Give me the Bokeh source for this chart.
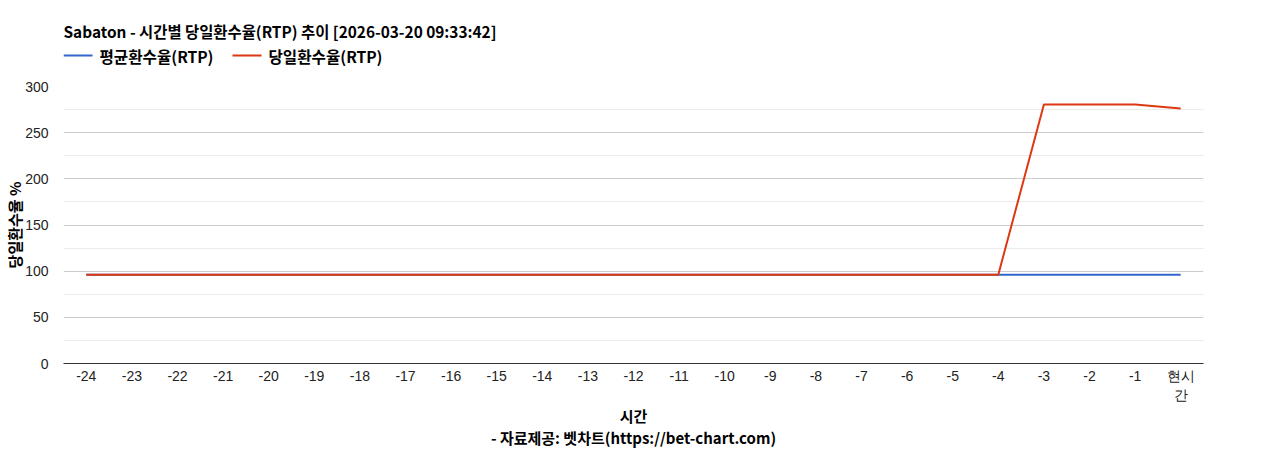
from bokeh.plotting import figure
from bokeh.models import (FactorRange, Range1d, ColumnDataSource, FixedTicker)
from bokeh.layouts import column
from bokeh.core.properties import value
from bokeh.embed import file_html
from bokeh.resources import INLINE

hours = ["-24", "-23", "-22", "-21", "-20", "-19", "-18", "-17", "-16", "-15",
         "-14", "-13", "-12", "-11", "-10", "-9", "-8", "-7", "-6", "-5",
         "-4", "-3", "-2", "-1", "현시\n간"]
avg_rtp = [96.2, 96.2, 96.2, 96.2, 96.2, 96.2, 96.2, 96.2, 96.2, 96.2,
           96.2, 96.2, 96.2, 96.2, 96.2, 96.2, 96.2, 96.2, 96.2, 96.2,
           96.2, 96.2, 96.2, 96.2, 96.2]
daily_rtp = [96.2, 96.2, 96.2, 96.2, 96.2, 96.2, 96.2, 96.2, 96.2, 96.2,
             96.2, 96.2, 96.2, 96.2, 96.2, 96.2, 96.2, 96.2, 96.2, 96.2,
             96.2, 280.6, 280.6, 280.6, 276.3]
y_ticks = [0, 50, 100, 150, 200, 250, 300]
y_minor = [25, 75, 125, 175, 225, 275]

series_names = ["평균환수율(RTP)", "당일환수율(RTP)"]
series_colors = ["#3366cc", "#dc3912"]
title_text = "Sabaton - 시간별 당일환수율(RTP) 추이 [2026-03-20 09:33:42]"
x_title = "시간"
source_text = "- 자료제공: 벳차트(https://bet-chart.com)"
y_title = "당일환수율 %"

FONT = "Liberation Sans"
KFONT = "Noto Sans CJK KR"
LB, RB = 63, 49          # frame at page x 63..1203
FW, FHT = 1140, 277      # frame size
W = LB + FW + RB

# ---- header: title + legend (x measured from the frame's left edge)
HH = 70
head = figure(width=W, height=HH, x_range=Range1d(0, FW), y_range=Range1d(HH, 0),
              output_backend="svg", toolbar_location=None,
              min_border_left=LB, min_border_right=RB,
              min_border_top=0, min_border_bottom=0)
head.axis.visible = False
head.grid.visible = False
head.outline_line_color = None
head.text(x=[0], y=[30], text=[title_text], text_font=value(KFONT),
          text_font_style="bold", text_font_size="15.4px", text_color="#000000",
          text_baseline="middle")
leg_x = [0, 169]
head.segment(x0=leg_x, y0=[55, 55], x1=[x + 29 for x in leg_x], y1=[55, 55],
             line_color=series_colors, line_width=2)
head.text(x=[x + 36 for x in leg_x], y=[55, 55], text=series_names,
          text_font=value(KFONT), text_font_style="bold", text_font_size="15.6px",
          text_color="#000000", text_baseline="middle")

# ---- main chart
src = ColumnDataSource(dict(x=hours, avg=avg_rtp, daily=daily_rtp))
p = figure(frame_width=FW, frame_height=FHT,
           x_range=FactorRange(*hours, range_padding=0),
           y_range=Range1d(0, 300), output_backend="svg",
           toolbar_location=None, min_border_left=LB, min_border_right=RB,
           min_border_top=16, min_border_bottom=20)
p.outline_line_color = None

p.line("x", "avg", source=src, line_color=series_colors[0], line_width=2)
p.line("x", "daily", source=src, line_color=series_colors[1], line_width=2)

p.yaxis.ticker = FixedTicker(ticks=y_ticks, minor_ticks=y_minor)
p.yaxis.axis_line_color = None
p.yaxis.major_tick_line_color = None
p.yaxis.minor_tick_line_color = None
p.yaxis.major_label_text_font = FONT
p.yaxis.major_label_text_font_size = "14px"
p.yaxis.major_label_text_color = "#222222"
p.yaxis.major_label_standoff = 9
p.yaxis.axis_label = y_title
p.yaxis.axis_label_text_font = KFONT
p.yaxis.axis_label_text_font_style = "bold"
p.yaxis.axis_label_text_font_size = "15px"
p.yaxis.axis_label_text_color = "#000000"
p.yaxis.axis_label_standoff = -3

p.xaxis.axis_line_color = "#333333"
p.xaxis.major_tick_line_color = None
p.xaxis.minor_tick_line_color = None
p.xaxis.major_label_text_font = FONT
p.xaxis.major_label_text_font_size = "14px"
p.xaxis.major_label_text_color = "#222222"
p.xaxis.major_label_standoff = -2
p.xaxis.axis_label = x_title + "\n" + source_text
p.xaxis.axis_label_text_font = KFONT
p.xaxis.axis_label_text_font_style = "bold"
p.xaxis.axis_label_text_font_size = "15px"
p.xaxis.axis_label_text_color = "#000000"
p.xaxis.axis_label_text_line_height = 1.05
p.xaxis.axis_label_standoff = -1

p.xgrid.grid_line_color = None
p.ygrid.grid_line_color = "#cccccc"
p.ygrid.minor_grid_line_color = "#ebebeb"

layout = column(head, p, spacing=0)
open("out.html", "w").write(file_html(layout, INLINE))
